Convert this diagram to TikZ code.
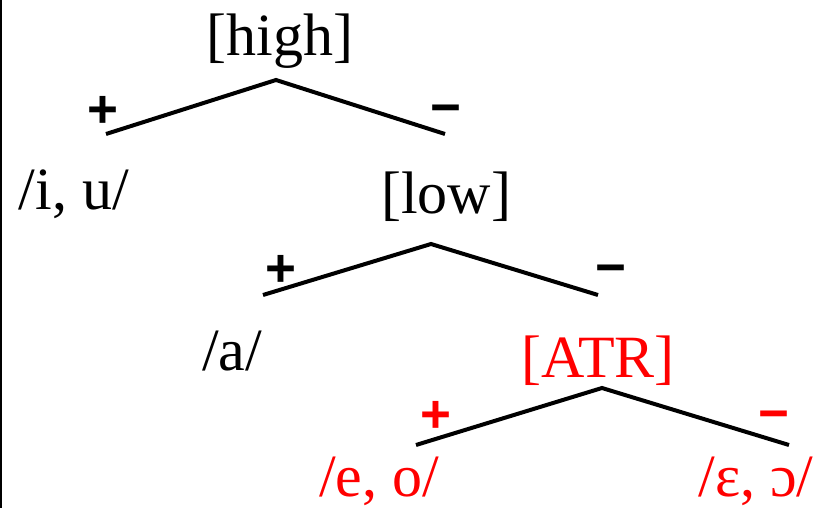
\documentclass[tikz,border=0pt]{standalone}
\usepackage{fontspec}
\setmainfont{Liberation Serif}
\newfontfamily\signfont{Liberation Sans}
\definecolor{featred}{RGB}{255,0,0}
\begin{document}
\begin{tikzpicture}[x=1pt,y=-1pt,
  lab/.style={anchor=base,inner sep=0pt,font=\fontsize{60}{72}\selectfont},
  sign/.style={anchor=base,inner sep=0pt,font=\signfont\bfseries\fontsize{53}{60}\selectfont},
  branch/.style={line width=4pt,line cap=butt,line join=miter}]
\useasboundingbox (0,0) rectangle (823,508);
\coordinate (edgeTop) at (1.2,0);
\coordinate (edgeBot) at (1.2,508);
\draw[line width=2.4pt] (edgeTop) -- (edgeBot);
% [high]
\node[lab] (high) at (280,56) {[high]};
\coordinate (hA) at (276,80);
\coordinate (hL) at (106,134);
\coordinate (hR) at (445,134);
\draw[branch] (hL) -- (hA) -- (hR);
\node[sign] (hplus) at (103,128) {+};
\node[sign] (hminus) at (446,126) {−};
\node[lab] (iu) at (74,210) {/i, u/};
% [low]
\node[lab] (low) at (446,214) {[low]};
\coordinate (lA) at (431,244);
\coordinate (lL) at (263,295);
\coordinate (lR) at (598,295);
\draw[branch] (lL) -- (lA) -- (lR);
\node[sign] (lplus) at (281,287) {+};
\node[sign] (lminus) at (611,286) {−};
\node[lab] (a) at (232,370) {/a/};
% [ATR]
\node[lab,text=featred] (atr) at (598,377) {[ATR]};
\coordinate (aA) at (602,388);
\coordinate (aL) at (416,445);
\coordinate (aR) at (789,445);
\draw[branch] (aL) -- (aA) -- (aR);
\node[sign,text=featred] (aplus) at (436,432) {+};
\node[sign,text=featred] (aminus) at (774,431) {−};
\node[lab,text=featred] (eo) at (379,496) {/e, o/};
\node[lab,text=featred] (eoopen) at (756,496) {/ɛ, ɔ/};
\end{tikzpicture}
\end{document}
